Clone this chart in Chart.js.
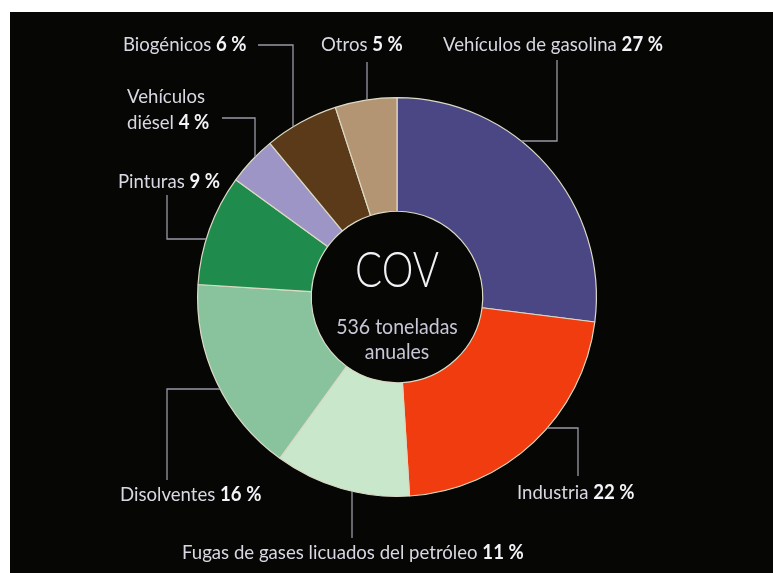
<!DOCTYPE html>
<html>
<head>
<meta charset="utf-8">
<script src="https://cdn.jsdelivr.net/npm/chart.js@4"></script>
<style>
  html, body { margin: 0; padding: 0; background: #fff; }
  #wrap { width: 773px; height: 573px; position: relative; }
</style>
</head>
<body>
<div id="wrap"><canvas id="covChart" width="773" height="573"></canvas></div>
<script>
// Datos: emisiones de COV por fuente (%)
const categories = ['Vehículos de gasolina', 'Industria', 'Fugas de gases licuados del petróleo', 'Disolventes', 'Pinturas', 'Vehículos diésel', 'Biogénicos', 'Otros'];
const shares = [27, 22, 11, 16, 9, 4, 6, 5];
const sliceColors = ['#4b4684', '#f03c0e', '#c8e7cb', '#89c39d', '#1f8b4c', '#9d95c6', '#5b3a1a', '#b39473'];
const centerTitle = 'COV';
const centerSubtitle = ['536 toneladas', 'anuales'];

// posiciones de las etiquetas y de las líneas guía (solo maquetación)
const calloutLayout = [
    { x: 443, y: 45, path: [[557, 60], [557, 141]], end: 'h' },
    { x: 517, y: 493, path: [[578, 476], [578, 428]], end: 'h' },
    { x: 182, y: 553, path: [[352, 538]], end: 'v' },
    { x: 120, y: 495, path: [[167, 480], [167, 389]], end: 'h' },
    { x: 118, y: 182, path: [[167, 195], [167, 239]], end: 'h' },
    { x: 127, y: 97, wrap: true, path: [[222, 118], [255, 118]], end: 'v' },
    { x: 123, y: 45, path: [[258, 45], [293, 45]], end: 'v' },
    { x: 321, y: 45, path: [[367, 62]], end: 'v' }
];

const FONT = "Lato, 'Open Sans', sans-serif";
const SQUEEZE = 0.93;
const textColor = '#d9d8e2';

function drawParts(ctx, x, y, parts, size) {
    ctx.save();
    ctx.translate(x, y);
    ctx.scale(SQUEEZE, 1);
    ctx.textBaseline = 'middle';
    ctx.textAlign = 'left';
    let cursor = 0;
    parts.forEach(function(p) {
        ctx.font = (p.bold ? '700 ' : '400 ') + size + 'px ' + FONT;
        ctx.fillStyle = p.bold ? '#f4f4f8' : textColor;
        ctx.fillText(p.text, cursor, 0);
        cursor += ctx.measureText(p.text).width;
    });
    ctx.restore();
}

const backdrop = {
    id: 'backdrop',
    beforeDraw(chart) {
        const ctx = chart.ctx;
        ctx.save();
        ctx.fillStyle = '#ffffff';
        ctx.fillRect(0, 0, chart.width, chart.height);
        ctx.fillStyle = '#060705';
        ctx.fillRect(10, 12, chart.width - 10, chart.height - 12);
        ctx.restore();
    }
};

const callouts = {
    id: 'callouts',
    afterDatasetsDraw(chart) {
        const ctx = chart.ctx;
        const arc = chart.getDatasetMeta(0).data[0];
        const cx = arc.x, cy = arc.y, r = arc.outerRadius;

        // líneas guía
        ctx.save();
        ctx.strokeStyle = '#9a99a6';
        ctx.lineWidth = 1.3;
        calloutLayout.forEach(function(item) {
            const pts = item.path.slice();
            const last = pts[pts.length - 1];
            if (item.end === 'v') {
                const dy = Math.sqrt(Math.max(r * r - Math.pow(last[0] - cx, 2), 0));
                pts.push([last[0], last[1] < cy ? cy - dy : cy + dy]);
            } else {
                const dx = Math.sqrt(Math.max(r * r - Math.pow(last[1] - cy, 2), 0));
                pts.push([last[0] < cx ? cx - dx : cx + dx, last[1]]);
            }
            ctx.beginPath();
            ctx.moveTo(pts[0][0], pts[0][1]);
            for (let i = 1; i < pts.length; i++) ctx.lineTo(pts[i][0], pts[i][1]);
            ctx.stroke();
        });
        ctx.restore();

        // etiquetas
        calloutLayout.forEach(function(item, i) {
            const name = categories[i];
            const pct = shares[i] + ' %';
            if (item.wrap) {
                const words = name.split(' ');
                drawParts(ctx, item.x, item.y, [{ text: words[0] }], 20);
                drawParts(ctx, item.x, item.y + 26, [{ text: words.slice(1).join(' ') + ' ' }, { text: pct, bold: true }], 20);
            } else {
                drawParts(ctx, item.x, item.y, [{ text: name + ' ' }, { text: pct, bold: true }], 20);
            }
        });

        // texto central
        ctx.save();
        ctx.translate(cx, cy);
        ctx.textAlign = 'center';
        ctx.textBaseline = 'middle';
        ctx.save();
        ctx.scale(0.8, 1);
        ctx.fillStyle = '#f2f2f6';
        ctx.font = '300 50px ' + FONT;
        ctx.fillText(centerTitle, 0, -26);
        ctx.restore();
        ctx.scale(SQUEEZE, 1);
        ctx.fillStyle = '#c9c6d6';
        ctx.font = '400 21px ' + FONT;
        ctx.fillText(centerSubtitle[0], 0, 30);
        ctx.fillText(centerSubtitle[1], 0, 55);
        ctx.restore();
    }
};

new Chart(document.getElementById('covChart'), {
    type: 'doughnut',
    data: {
        labels: categories,
        datasets: [{
            data: shares,
            backgroundColor: sliceColors,
            borderColor: '#dcdac4',
            borderWidth: 1.2
        }]
    },
    options: {
        responsive: false,
        animation: false,
        cutout: '43%',
        rotation: 0,
        layout: { padding: { left: 197, right: 176, top: 97, bottom: 76 } },
        plugins: {
            legend: { display: false },
            tooltip: { enabled: false }
        }
    },
    plugins: [backdrop, callouts]
});
</script>
</body>
</html>
